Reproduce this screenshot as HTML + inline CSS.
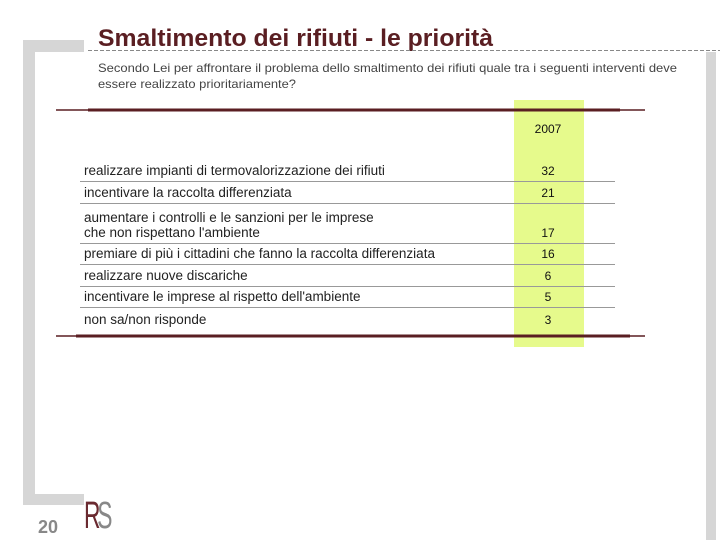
<!DOCTYPE html>
<html><head><meta charset="utf-8"><style>
html,body{margin:0;padding:0;background:#fff;}
svg{display:block;font-family:"Liberation Sans",sans-serif;}
</style></head><body>
<svg id="c" width="720" height="540" viewBox="0 0 720 540">
  <rect x="23" y="40" width="61" height="12" fill="#d6d6d6"/>
  <rect x="23" y="40" width="12" height="465" fill="#d6d6d6"/>
  <rect x="23" y="494" width="61" height="11" fill="#d6d6d6"/>
  <rect x="706" y="52" width="10" height="488" fill="#d6d6d6"/>
  <text x="98" y="46" font-size="24" font-weight="bold" fill="#5a1e22" textLength="395" lengthAdjust="spacingAndGlyphs">Smaltimento dei rifiuti - le priorità</text>
  <line x1="88" y1="50.5" x2="720" y2="50.5" stroke="#888" stroke-dasharray="4,2"/>
  <text x="98" y="72" font-size="12" fill="#444" textLength="579" lengthAdjust="spacingAndGlyphs">Secondo Lei per affrontare il problema dello smaltimento dei rifiuti quale tra i seguenti interventi deve</text>
  <text x="98" y="88" font-size="12" fill="#444" textLength="198" lengthAdjust="spacingAndGlyphs">essere realizzato prioritariamente?</text>
  <rect x="514" y="100" width="70" height="247" fill="#e6fa8c"/>
  <line x1="56" y1="110" x2="645" y2="110" stroke="#5a1e22" stroke-width="1.5"/>
  <line x1="88" y1="110" x2="620" y2="110" stroke="#5a1e22" stroke-width="3"/>
  <line x1="56" y1="336" x2="645" y2="336" stroke="#5a1e22" stroke-width="1.5"/>
  <line x1="76" y1="336" x2="630" y2="336" stroke="#5a1e22" stroke-width="3"/>
  <text x="548" y="133" font-size="12" text-anchor="middle" fill="#111">2007</text>
  <g id="rows"></g>
  <text x="38" y="533" font-size="18" font-weight="bold" fill="#888">20</text>
  <g transform="translate(84 528) scale(0.6 1) translate(-84 -528)">
    <text x="84" y="528" font-size="38" fill="#6a2a30">R</text>
    <text x="106" y="528" font-size="38" fill="#888">S</text>
  </g>
</svg>
<script>
const labels = [
  ["realizzare impianti di termovalorizzazione dei rifiuti"],
  ["incentivare la raccolta differenziata"],
  ["aumentare i controlli e le sanzioni per le imprese","che non rispettano l'ambiente"],
  ["premiare di più i cittadini che fanno la raccolta differenziata"],
  ["realizzare nuove discariche"],
  ["incentivare le imprese al rispetto dell'ambiente"],
  ["non sa/non risponde"]
];
const values = [32, 21, 17, 16, 6, 5, 3];
const rowBottoms = [181, 203, 243, 264, 286, 307, 330];
const ns = "http://www.w3.org/2000/svg";
const g = document.getElementById('rows');
labels.forEach((lab, i) => {
  const base = rowBottoms[i] - 6;
  lab.forEach((line, j) => {
    const t = document.createElementNS(ns, 'text');
    
    
    const y = base - (lab.length - 1 - j) * 15;
    t.setAttribute('x', 84); t.setAttribute('y', y);
    t.setAttribute('font-size', '13.5'); t.setAttribute('fill', '#222');
    t.textContent = line;
    g.appendChild(t);
  });
  const v = document.createElementNS(ns, 'text');
  
  
  v.setAttribute('x', 548); v.setAttribute('y', base);
  v.setAttribute('font-size', '12'); v.setAttribute('text-anchor', 'middle'); v.setAttribute('fill', '#111');
  v.textContent = values[i];
  g.appendChild(v);
  if (i < labels.length - 1) {
    const l = document.createElementNS(ns, 'line');
    
    
    l.setAttribute('x1', 80); l.setAttribute('x2', 615);
    l.setAttribute('y1', rowBottoms[i] + 0.5); l.setAttribute('y2', rowBottoms[i] + 0.5);
    l.setAttribute('stroke', '#999'); l.setAttribute('stroke-width', '1');
    g.appendChild(l);
  }
});
</script>
</body></html>
